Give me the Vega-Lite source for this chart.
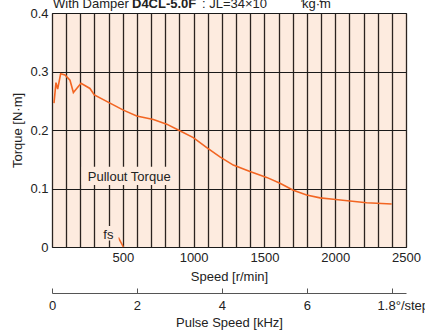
{
  "$schema": "https://vega.github.io/schema/vega-lite/v6.json",
  "width": 354,
  "height": 234,
  "autosize": {"type": "none"},
  "padding": {"left": 52, "top": 13, "right": 19, "bottom": 84},
  "background": "white",
  "config": {
    "font": "Liberation Sans",
    "view": {"fill": "#fdebdf", "stroke": "#222222", "strokeWidth": 1},
    "axis": {"labelFont": "Liberation Sans", "titleFont": "Liberation Sans", "labelFontSize": 13, "titleFontSize": 13, "titleFontWeight": "normal", "labelColor": "#222222", "titleColor": "#222222"},
    "text": {"font": "Liberation Sans", "fontSize": 13, "color": "#222222"}
  },
  "datasets": {
    "curve": [
      {"speed": 14, "torque": 0.246},
      {"speed": 28, "torque": 0.281},
      {"speed": 40, "torque": 0.270},
      {"speed": 61, "torque": 0.296},
      {"speed": 92, "torque": 0.294},
      {"speed": 127, "torque": 0.285},
      {"speed": 151, "torque": 0.264},
      {"speed": 205, "torque": 0.280},
      {"speed": 268, "torque": 0.271},
      {"speed": 299, "torque": 0.260},
      {"speed": 504, "torque": 0.234},
      {"speed": 598, "torque": 0.224},
      {"speed": 716, "torque": 0.218},
      {"speed": 810, "torque": 0.210},
      {"speed": 892, "torque": 0.200},
      {"speed": 998, "torque": 0.187},
      {"speed": 1093, "torque": 0.170},
      {"speed": 1186, "torque": 0.154},
      {"speed": 1280, "torque": 0.140},
      {"speed": 1398, "torque": 0.129},
      {"speed": 1516, "torque": 0.119},
      {"speed": 1610, "torque": 0.109},
      {"speed": 1704, "torque": 0.097},
      {"speed": 1798, "torque": 0.089},
      {"speed": 1893, "torque": 0.084},
      {"speed": 1987, "torque": 0.0815},
      {"speed": 2104, "torque": 0.0786},
      {"speed": 2222, "torque": 0.0757},
      {"speed": 2399, "torque": 0.0735}
    ],
    "fs": [
      {"speed": 468, "torque": 0.0166},
      {"speed": 504, "torque": 0.0}
    ]
  },
  "layer": [
    {
      "data": {"name": "curve"},
      "mark": {"type": "line", "color": "#f26522", "strokeWidth": 1.6},
      "encoding": {
        "x": {"field": "speed", "type": "quantitative", "scale": {"domain": [0, 2500], "nice": false, "zero": true},
          "axis": {"values": [0,100,200,300,400,500,600,700,800,900,1000,1100,1200,1300,1400,1500,1600,1700,1800,1900,2000,2100,2200,2300,2400,2500],
            "labelExpr": "datum.value % 500 == 0 && datum.value > 0 ? format(datum.value, 'd') : ''",
            "grid": true, "gridColor": "#2b2320", "gridWidth": 1.3, "gridOpacity": 1,
            "ticks": false, "domain": false, "labelPadding": 4, "labelFlush": false, "labelOverlap": false,
            "title": "Speed [r/min]", "titlePadding": 6}},
        "y": {"field": "torque", "type": "quantitative", "scale": {"domain": [0, 0.4], "nice": false},
          "axis": {"values": [0, 0.1, 0.2, 0.3, 0.4], "labelExpr": "datum.value == 0 ? '0' : format(datum.value, '.1f')",
            "grid": true, "gridColor": "#1a1a1a", "gridWidth": 1, "gridOpacity": 1,
            "ticks": false, "domain": false, "labelPadding": 4, "labelFlush": false,
            "title": "Torque [N·m]", "titlePadding": 5}}
      }
    },
    {
      "data": {"name": "fs"},
      "mark": {"type": "line", "color": "#f26522", "strokeWidth": 1.6},
      "encoding": {
        "x": {"field": "speed", "type": "quantitative", "axis": null},
        "y": {"field": "torque", "type": "quantitative"}
      }
    },
    {
      "data": {"values": [{"x1": 210, "x2": 885, "y1": 0.106, "y2": 0.137}, {"x1": 330, "x2": 470, "y1": 0.011, "y2": 0.036}]},
      "mark": {"type": "rect", "color": "#fdebdf"},
      "encoding": {
        "x": {"field": "x1", "type": "quantitative", "axis": null},
        "x2": {"field": "x2"},
        "y": {"field": "y1", "type": "quantitative"},
        "y2": {"field": "y2"}
      }
    },
    {
      "data": {"values": [{"label": "Pullout Torque", "speed": 545, "torque": 0.1196}, {"label": "fs", "speed": 398, "torque": 0.0205}]},
      "mark": {"type": "text", "align": "center", "baseline": "middle"},
      "encoding": {
        "x": {"field": "speed", "type": "quantitative", "axis": null},
        "y": {"field": "torque", "type": "quantitative"},
        "text": {"field": "label"}
      }
    },
    {
      "data": {"values": [{"label": "With Damper", "speed": 7}, {"label": ": JL=34×10", "speed": 1059}, {"label": "kg·m", "speed": 1765}]},
      "mark": {"type": "text", "align": "left", "baseline": "alphabetic", "dy": -5, "fontSize": 13},
      "encoding": {
        "x": {"field": "speed", "type": "quantitative", "axis": null},
        "y": {"datum": 0.4, "type": "quantitative"},
        "text": {"field": "label"}
      }
    },
    {
      "data": {"values": [{"label": "D4CL-5.0F", "speed": 565}]},
      "mark": {"type": "text", "align": "left", "baseline": "alphabetic", "dy": -5, "fontSize": 13, "fontWeight": "bold"},
      "encoding": {
        "x": {"field": "speed", "type": "quantitative", "axis": null},
        "y": {"datum": 0.4, "type": "quantitative"},
        "text": {"field": "label"}
      }
    },
    {
      "data": {"values": [{"label": "−7", "speed": 1712}, {"label": "2", "speed": 1886}]},
      "mark": {"type": "text", "align": "left", "baseline": "alphabetic", "dy": -11, "fontSize": 9},
      "encoding": {
        "x": {"field": "speed", "type": "quantitative", "axis": null},
        "y": {"datum": 0.4, "type": "quantitative"},
        "text": {"field": "label"}
      }
    },
    {
      "data": {"values": [{"speed": 0}]},
      "mark": {"type": "rule", "opacity": 0},
      "encoding": {
        "x": {"field": "speed", "type": "quantitative",
          "axis": {"orient": "bottom", "offset": 46, "values": [0, 600, 1200, 1800, 2400],
            "labelExpr": "datum.value == 2400 ? '1.8°/step' : format(datum.value / 300, 'd')",
            "labelOffset": {"condition": {"test": "datum.value == 2400", "value": 11}, "value": 0},
            "domainColor": "#555555", "domainWidth": 1, "tickColor": "#555555", "tickSize": -5, "tickWidth": 1,
            "labelPadding": 11, "labelFlush": false, "labelOverlap": false, "grid": false,
            "title": "Pulse Speed [kHz]", "titlePadding": 4}}
      }
    }
  ],
  "resolve": {"axis": {"x": "independent"}}
}
